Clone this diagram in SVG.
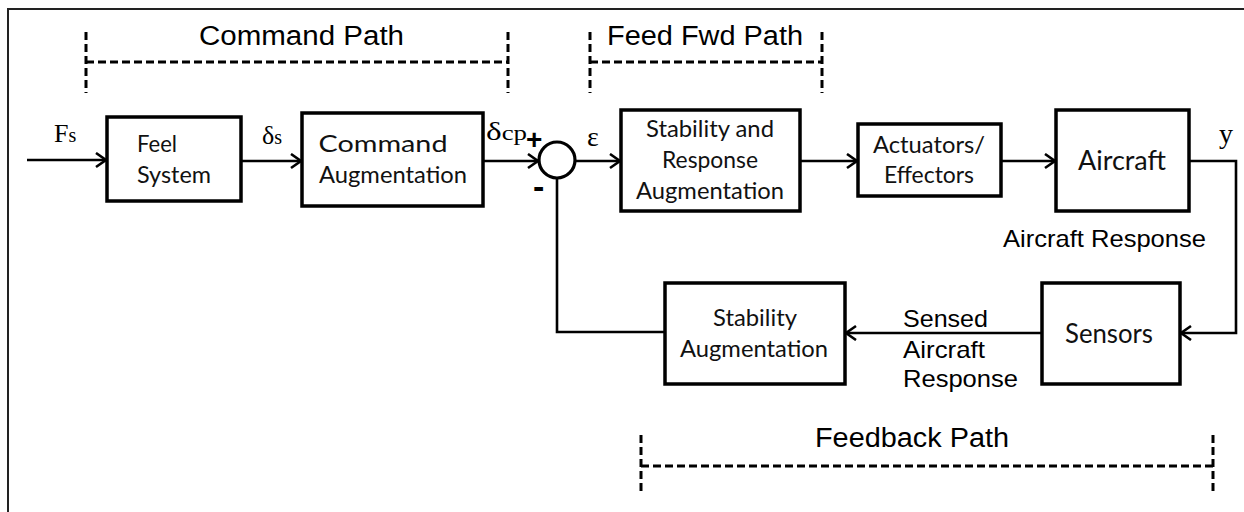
<svg xmlns="http://www.w3.org/2000/svg" width="1244" height="512" viewBox="0 0 1244 512">
<style>
.box{fill:#fff;stroke:#000;stroke-width:3.5}
.conn{fill:none;stroke:#000;stroke-width:2.6}
.dash{fill:none;stroke:#000;stroke-width:3;stroke-dasharray:8 4}
.lbl{font-family:Lato,"Open Sans",sans-serif;font-size:24px;fill:#111;text-anchor:middle}
.path{font-family:"Liberation Sans",Arial,sans-serif;font-size:27px;fill:#000}
.arial{font-family:"Liberation Sans",Arial,sans-serif;font-size:24px;fill:#000}
.math{font-family:"Liberation Serif","Times New Roman",serif;font-size:26px;fill:#000}
</style>
<defs>
<marker id="arr" markerUnits="userSpaceOnUse" markerWidth="14" markerHeight="18" refX="11" refY="8" orient="auto">
<path d="M1,1 L11,8 L1,15" fill="none" stroke="#000" stroke-width="2.6"/>
</marker>
</defs>
<rect x="8" y="9" width="1250" height="520" fill="none" stroke="#222" stroke-width="2"/>

<g id="brackets">
<path class="dash" d="M86,32 V93 M86,62 H508 M508,32 V93"/>
<path class="dash" d="M590,32 V93 M590,62 H822 M822,32 V93"/>
<path class="dash" d="M641,435 V495 M641,466 H1213 M1213,435 V495"/>
<text class="path" x="199" y="45" textLength="205" lengthAdjust="spacingAndGlyphs">Command  Path</text>
<text class="path" x="607" y="45" textLength="196" lengthAdjust="spacingAndGlyphs">Feed Fwd Path</text>
<text class="path" x="815" y="447" textLength="194" lengthAdjust="spacingAndGlyphs">Feedback Path</text>
</g>

<g id="connectors">
<path class="conn" d="M27,160 H106" marker-end="url(#arr)"/>
<path class="conn" d="M241,161 H301" marker-end="url(#arr)"/>
<path class="conn" d="M483,161 H538" marker-end="url(#arr)"/>
<path class="conn" d="M575,161 H620" marker-end="url(#arr)"/>
<path class="conn" d="M800,161 H857" marker-end="url(#arr)"/>
<path class="conn" d="M1001,161 H1055" marker-end="url(#arr)"/>
<path class="conn" d="M1189,161 H1236 V333 H1181" marker-end="url(#arr)"/>
<path class="conn" d="M1042,333 H846" marker-end="url(#arr)"/>
<path class="conn" d="M665,332 H557 V178"/>
</g>

<g id="labels">
<text class="math" x="54" y="142">F<tspan style="font-size:20px">s</tspan></text>
<text class="math" x="262" y="144">δ<tspan style="font-size:20px">s</tspan></text>
<text class="math" x="486" y="140" textLength="41" lengthAdjust="spacingAndGlyphs">δ<tspan style="font-size:21px">cp</tspan></text>
<text class="arial" x="526" y="149" style="font-size:28px;font-weight:bold">+</text>
<text class="arial" x="533" y="198" style="font-size:34px;font-weight:bold">-</text>
<text class="math" x="587" y="146" style="font-size:28px">ε</text>
<text class="math" x="1219" y="143" style="font-size:28px">y</text>
<text class="arial" x="1003" y="247" textLength="203" lengthAdjust="spacingAndGlyphs">Aircraft Response</text>
<text class="arial" x="903" y="327" textLength="85" lengthAdjust="spacingAndGlyphs">Sensed</text>
<text class="arial" x="903" y="358" textLength="82" lengthAdjust="spacingAndGlyphs">Aircraft</text>
<text class="arial" x="903" y="387" textLength="115" lengthAdjust="spacingAndGlyphs">Response</text>
</g>

<g id="feel">
<rect class="box" x="107" y="117" width="134" height="84"/>
<text class="lbl" x="157" y="152" textLength="40" lengthAdjust="spacingAndGlyphs">Feel</text>
<text class="lbl" x="174" y="183" textLength="74" lengthAdjust="spacingAndGlyphs">System</text>
</g>

<g id="cmdaug">
<rect class="box" x="302" y="113" width="181" height="93"/>
<text class="lbl" x="383" y="152" textLength="129" lengthAdjust="spacingAndGlyphs">Command</text>
<text class="lbl" x="393" y="183" textLength="148" lengthAdjust="spacingAndGlyphs">Augmentation</text>
</g>

<g id="sum">
<circle cx="557" cy="160" r="18" fill="#fff" stroke="#000" stroke-width="3.2"/>
</g>

<g id="stabresp">
<rect class="box" x="621" y="110" width="179" height="101"/>
<text class="lbl" x="710" y="137" textLength="128" lengthAdjust="spacingAndGlyphs">Stability and</text>
<text class="lbl" x="710" y="168" textLength="96" lengthAdjust="spacingAndGlyphs">Response</text>
<text class="lbl" x="710" y="199" textLength="148" lengthAdjust="spacingAndGlyphs">Augmentation</text>
</g>

<g id="actuators">
<rect class="box" x="858" y="124" width="143" height="72"/>
<text class="lbl" x="929" y="153" textLength="112" lengthAdjust="spacingAndGlyphs">Actuators/</text>
<text class="lbl" x="929" y="183" textLength="90" lengthAdjust="spacingAndGlyphs">Effectors</text>
</g>

<g id="aircraft">
<rect class="box" x="1056" y="110" width="133" height="101"/>
<text class="lbl" x="1122" y="170" style="font-size:27px" textLength="88" lengthAdjust="spacingAndGlyphs">Aircraft</text>
</g>

<g id="sensors">
<rect class="box" x="1042" y="283" width="138" height="101"/>
<text class="lbl" x="1109" y="343" style="font-size:27px" textLength="88" lengthAdjust="spacingAndGlyphs">Sensors</text>
</g>

<g id="stabaug">
<rect class="box" x="665" y="283" width="180" height="101"/>
<text class="lbl" x="755" y="326" textLength="84" lengthAdjust="spacingAndGlyphs">Stability</text>
<text class="lbl" x="754" y="357" textLength="148" lengthAdjust="spacingAndGlyphs">Augmentation</text>
</g>
</svg>
